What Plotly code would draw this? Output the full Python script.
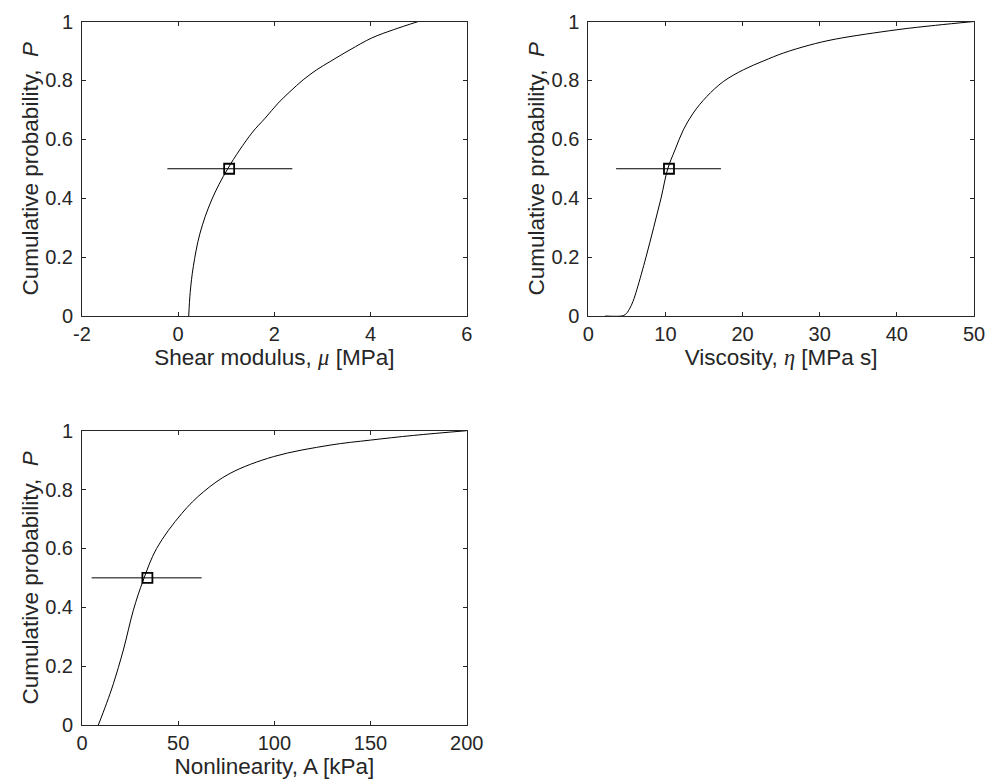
import plotly.graph_objects as go

# ---- data ----
mu_x = [0.219, 0.25, 0.315, 0.454, 0.696, 1.03, 1.53, 1.81, 2.08, 2.326, 2.60, 2.88, 3.16,
        3.574, 4.025, 4.475, 4.995]
mu_p = [0.0, 0.08, 0.168, 0.281, 0.394, 0.5, 0.621, 0.672, 0.723, 0.762, 0.802, 0.836, 0.864,
        0.904, 0.944, 0.972, 1.0]
mu_med, mu_lo, mu_hi = 1.06, -0.225, 2.374

eta_x = [2.2, 4.3, 4.8, 5.3, 5.8, 6.3, 7.48, 8.47, 9.43, 10.3, 11.24, 12.32, 13.6, 15.35,
         17.5, 20.1, 22.7, 25.3, 28.7, 32.0, 40.0, 45.0, 50.0]
eta_p = [0.0, 0.0, 0.005, 0.022, 0.05, 0.09, 0.2, 0.3, 0.4, 0.5, 0.564, 0.632, 0.689, 0.745,
         0.796, 0.836, 0.866, 0.893, 0.92, 0.94, 0.972, 0.987, 1.0]
eta_med, eta_lo, eta_hi = 10.46, 3.6, 17.2

A_x = [8.5, 12.8, 16.3, 21.5, 26.7, 31.9, 38.8, 51.9, 63.1, 77.0, 99.6, 129.0, 149.9, 172.4, 200.0]
A_p = [0.0, 0.074, 0.14, 0.255, 0.39, 0.493, 0.6, 0.719, 0.792, 0.855, 0.912, 0.951, 0.968, 0.984, 1.0]
A_med, A_lo, A_hi = 34.0, 5.0, 62.2

y_ticks = [0, 0.2, 0.4, 0.6, 0.8, 1]
y_ticktext = ["0", "0.2", "0.4", "0.6", "0.8", "1"]
mu_ticks = [-2, 0, 2, 4, 6]
mu_ticktext = ["-2", "0", "2", "4", "6"]
eta_ticks = [0, 10, 20, 30, 40, 50]
A_ticks = [0, 50, 100, 150, 200]

FONT = "Liberation Sans, Arial, Helvetica, sans-serif"
AX = "#262626"
greek = "<span style='font-family:Liberation Serif, serif'><i>%s</i></span>"

panels = [
    dict(x=mu_x, p=mu_p, med=mu_med, lo=mu_lo, hi=mu_hi, xr=[-2, 6],
         tv=mu_ticks, tt=mu_ticktext,
         title="Shear modulus, " + greek % "μ" + " [MPa]"),
    dict(x=eta_x, p=eta_p, med=eta_med, lo=eta_lo, hi=eta_hi, xr=[0, 50],
         tv=eta_ticks, tt=[str(v) for v in eta_ticks],
         title="Viscosity, " + greek % "η" + " [MPa s]"),
    dict(x=A_x, p=A_p, med=A_med, lo=A_lo, hi=A_hi, xr=[0, 200],
         tv=A_ticks, tt=[str(v) for v in A_ticks],
         title="Nonlinearity, A [kPa]"),
]

W, H = 986, 780
boxes = [(82, 466.7, 21.5, 316), (588.3, 974, 21.5, 316), (82, 466.7, 430.7, 725)]

fig = go.Figure()
layout = {}
for i, (pn, (l, r, t, b)) in enumerate(zip(panels, boxes), start=1):
    xa = "x" if i == 1 else f"x{i}"
    ya = "y" if i == 1 else f"y{i}"
    fig.add_trace(go.Scatter(x=pn["x"], y=pn["p"], mode="lines", xaxis=xa, yaxis=ya,
                             line=dict(color="black", width=1, shape="spline", smoothing=1.0),
                             showlegend=False, hoverinfo="skip"))
    fig.add_trace(go.Scatter(x=[pn["med"]], y=[0.5], mode="markers", xaxis=xa, yaxis=ya,
                             marker=dict(symbol="square-open", size=10, color="black",
                                         line=dict(width=1.8, color="black")),
                             error_x=dict(type="data", symmetric=False,
                                          array=[pn["hi"] - pn["med"]],
                                          arrayminus=[pn["med"] - pn["lo"]],
                                          width=0, thickness=1, color="black"),
                             showlegend=False))
    common = dict(showline=True, linecolor=AX, linewidth=1, mirror="allticks",
                  ticks="inside", ticklen=4, tickcolor=AX, tickwidth=1,
                  showgrid=False, zeroline=False, automargin=False,
                  tickfont=dict(family=FONT, size=20, color=AX))
    layout["xaxis" if i == 1 else f"xaxis{i}"] = dict(
        common, domain=[l / W, r / W], range=pn["xr"], tickvals=pn["tv"], ticktext=pn["tt"],
        anchor=ya, title=dict(text=pn["title"], font=dict(family=FONT, size=22.5, color=AX), standoff=1))
    layout["yaxis" if i == 1 else f"yaxis{i}"] = dict(
        common, domain=[1 - b / H, 1 - t / H], range=[0, 1], tickvals=y_ticks, ticktext=y_ticktext,
        anchor=xa, ticklabelstandoff=4,
        title=dict(text="Cumulative probability,  <i>P</i>", font=dict(family=FONT, size=22.5, color=AX), standoff=0))

fig.update_layout(**layout)
fig.update_layout(width=W, height=H, margin=dict(l=0, r=0, t=0, b=0),
                  paper_bgcolor="white", plot_bgcolor="white")
fig.write_html("out.html", config={"displayModeBar": False},
               post_script="document.body.style.margin='0';")
